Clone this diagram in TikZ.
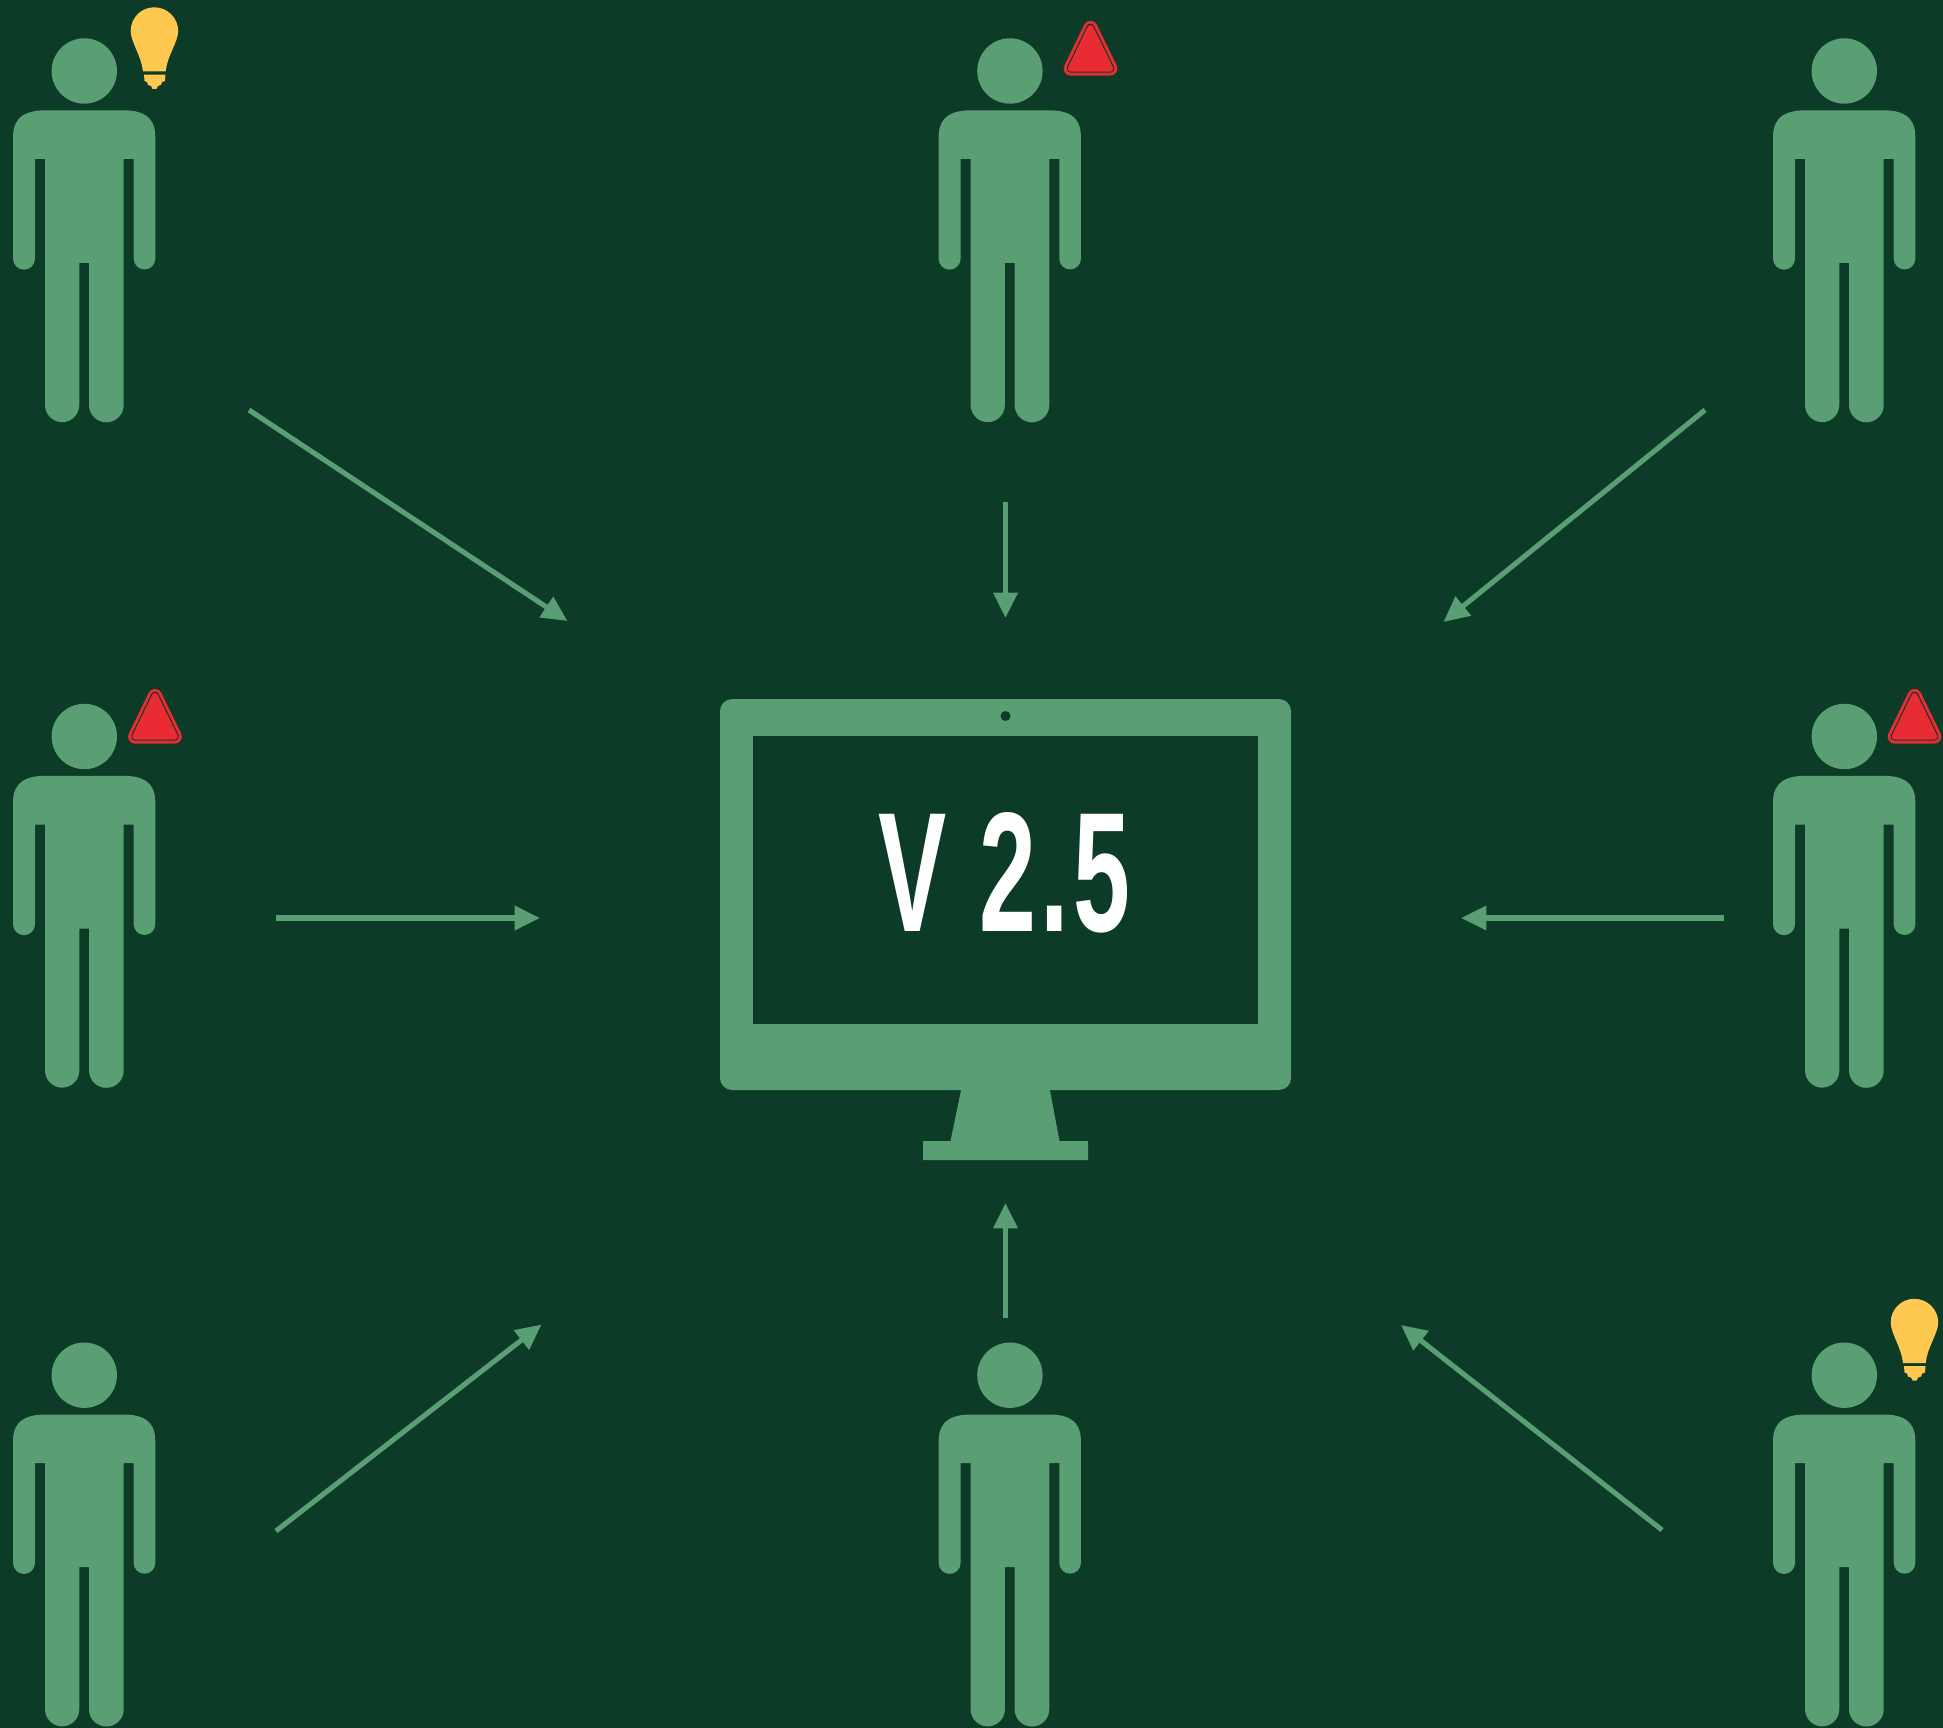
\documentclass[tikz,border=0pt]{standalone}
\usepackage{fontspec}
\setmainfont{Liberation Sans}
\usetikzlibrary{arrows.meta}
\definecolor{bgc}{HTML}{0C3B27}
\definecolor{leaf}{HTML}{599F73}
\definecolor{bulbc}{HTML}{FFC850}
\definecolor{alertc}{HTML}{E92B33}
\tikzset{
  x=0.02cm, y=-0.02cm,
  flow/.style={draw=leaf, line width=2.9pt, -{Triangle[length=14.5pt,width=13.5pt]}},
  person/.pic={
    \fill[leaf] (84.3,71) circle[radius=0.654cm];
    \fill[leaf] (45,159) -- (35,159) -- (35,258.7) arc[start angle=0,end angle=-180,radius=0.22cm]
      -- (13,137) .. controls (13,125) and (17,110.3) .. (45,110.3)
      -- (123.7,110.3) .. controls (151.7,110.3) and (155.3,125) .. (155.3,137)
      -- (155.3,258.7) arc[start angle=0,end angle=-180,radius=0.216cm]
      -- (133.7,159) -- (123.7,159) -- (123.7,405) arc[start angle=0,end angle=-180,radius=0.347cm]
      -- (89,263) -- (79.3,263) -- (79.3,405) arc[start angle=0,end angle=-180,radius=0.343cm]
      -- cycle;
  },
  idea/.pic={
    \fill[bulbc] (154.3,7.3) .. controls (167.5,7.3) and (178.2,18) .. (178.2,31)
      .. controls (178.2,42) and (167,56) .. (165.7,71.5) -- (143,71.5)
      .. controls (141.5,56) and (130.7,42) .. (130.7,31)
      .. controls (130.7,18) and (141,7.3) .. (154.3,7.3) -- cycle;
    \fill[bulbc] (144,74.7) -- (165.5,74.7) -- (165,81) -- (162,82) -- (161,85) -- (158,86) -- (156.5,89) -- (152.5,89) -- (151,86) -- (148,85) -- (147,82) -- (144.5,81) -- cycle;
  },
  alert/.pic={
    \draw[alertc, line width=7.97pt, line join=round] (1090.5,27.8) -- (1070.6,68.7) -- (1110.4,68.7) -- cycle;
    \draw[bgc, line width=4.6pt, line join=round] (1090.5,27.8) -- (1070.6,68.7) -- (1110.4,68.7) -- cycle;
    \draw[alertc, fill=alertc, line width=3.3pt, line join=round] (1090.5,27.8) -- (1070.6,68.7) -- (1110.4,68.7) -- cycle;
  }
}
\begin{document}
\begin{tikzpicture}
\useasboundingbox (0,0) rectangle (1943,1727.8);
\fill[bgc] (-20,-20) rectangle (1963,1749);
% people
\pic at (0,0) {person};
\pic at (925.6,0) {person};
\pic at (1760,0) {person};
\pic at (0,665.5) {person};
\pic at (1760,665.5) {person};
\pic at (0,1304.2) {person};
\pic at (925.6,1304.2) {person};
\pic at (1760,1304.2) {person};
% marks
\pic at (0,0) {idea};
\pic at (1760,1291.5) {idea};
\pic at (0,0) {alert};
\pic at (-935.5,668) {alert};
\pic at (824,668) {alert};
% monitor
\fill[leaf, rounded corners=0.24cm] (720,699) rectangle (1291,1090);
\fill[leaf] (961.5,1088) -- (1049.5,1088) -- (1059.5,1141) -- (1088,1141) -- (1088,1160) -- (923,1160) -- (923,1141) -- (950.5,1141) -- cycle;
\fill[bgc] (752.5,736) rectangle (1258,1024);
\fill[bgc] (1005.5,716) circle[radius=0.1cm];
\node[anchor=base, inner sep=0, text=white, xscale=0.6] (version) at (1004.5,931)
  {\fontsize{97}{97}\selectfont\bfseries\addfontfeatures{LetterSpace=4.5}V 2.5};
% arrows
\coordinate (a1s) at (249,410);  \coordinate (a1e) at (567.5,621);
\coordinate (a2s) at (1005.5,502); \coordinate (a2e) at (1005.5,618);
\coordinate (a3s) at (1705,410); \coordinate (a3e) at (1443.5,622);
\coordinate (a4s) at (276,918);  \coordinate (a4e) at (540,918);
\coordinate (a5s) at (1724,918); \coordinate (a5e) at (1461,918);
\coordinate (a6s) at (276,1531); \coordinate (a6e) at (541.5,1324.5);
\coordinate (a7s) at (1005.5,1318); \coordinate (a7e) at (1005.5,1203);
\coordinate (a8s) at (1662,1530); \coordinate (a8e) at (1401,1325);
\draw[flow] (a1s) -- (a1e);
\draw[flow] (a2s) -- (a2e);
\draw[flow] (a3s) -- (a3e);
\draw[flow] (a4s) -- (a4e);
\draw[flow] (a5s) -- (a5e);
\draw[flow] (a6s) -- (a6e);
\draw[flow] (a7s) -- (a7e);
\draw[flow] (a8s) -- (a8e);
\end{tikzpicture}
\end{document}
